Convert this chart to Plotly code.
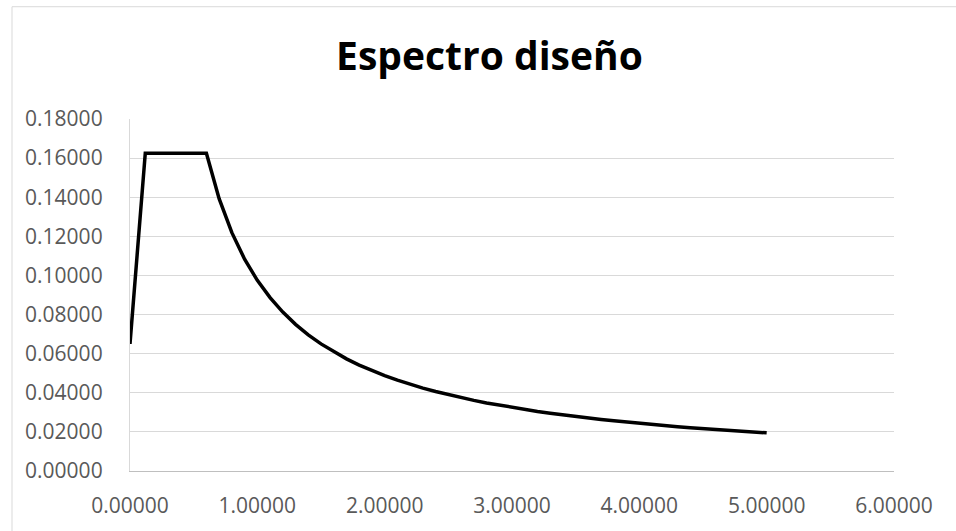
import plotly.graph_objects as go

# Period T (s) and spectral acceleration Sa
periodo = [0.00, 0.12, 0.20, 0.30, 0.40, 0.50, 0.60, 0.70, 0.80, 0.90, 1.00,
           1.10, 1.20, 1.30, 1.40, 1.50, 1.60, 1.70, 1.80, 1.90, 2.00,
           2.10, 2.20, 2.30, 2.40, 2.50, 2.60, 2.70, 2.80, 2.90, 3.00,
           3.10, 3.20, 3.30, 3.40, 3.50, 3.60, 3.70, 3.80, 3.90, 4.00,
           4.10, 4.20, 4.30, 4.40, 4.50, 4.60, 4.70, 4.80, 4.90, 5.00]
sa = [0.06500, 0.16250, 0.16250, 0.16250, 0.16250, 0.16250, 0.16250, 0.13929, 0.12188, 0.10833, 0.09750,
      0.08864, 0.08125, 0.07500, 0.06964, 0.06500, 0.06094, 0.05735, 0.05417, 0.05132, 0.04875,
      0.04643, 0.04432, 0.04239, 0.04063, 0.03900, 0.03750, 0.03611, 0.03482, 0.03362, 0.03250,
      0.03145, 0.03047, 0.02955, 0.02868, 0.02786, 0.02708, 0.02635, 0.02566, 0.02500, 0.02438,
      0.02378, 0.02321, 0.02267, 0.02216, 0.02167, 0.02120, 0.02074, 0.02031, 0.01990, 0.01950]

titulo = "Espectro diseño"

fig = go.Figure()
fig.add_trace(go.Scatter(x=periodo, y=sa, mode="lines",
                         line=dict(color="black", width=3.5), showlegend=False,
                         hoverinfo="x+y"))

tick_font = dict(family="Open Sans", size=21, color="#595959")

fig.update_layout(
    width=956, height=531,
    margin=dict(l=130, r=62, t=119, b=58),
    paper_bgcolor="white", plot_bgcolor="white",
    title=dict(text=titulo, x=0.512, xref="container", xanchor="center",
               y=0.893, yanchor="middle", yref="container",
               font=dict(family="Open Sans", size=39, color="black", weight="bold")),
    xaxis=dict(range=[0, 6], tick0=0, dtick=1, tickformat=".5f",
               showgrid=False, zeroline=False, showline=True,
               linecolor="#bfbfbf", linewidth=1.3, ticks="",
               ticklabelstandoff=16, tickfont=tick_font, fixedrange=True),
    yaxis=dict(range=[0, 0.18], tick0=0, dtick=0.02, tickformat=".5f",
               showgrid=True, gridcolor="#d9d9d9", gridwidth=1.3,
               zeroline=False, showline=True, linecolor="#d9d9d9", linewidth=1.3,
               ticks="", ticklabelstandoff=22, tickfont=tick_font, fixedrange=True),
    shapes=[dict(type="rect", xref="paper", yref="paper",
                 x0=(12 - 130) / 764, x1=(962 - 130) / 764,
                 y0=-(540 - 473.3) / 354.3, y1=(473.3 - 6) / 354.3,
                 line=dict(color="#d9d9d9", width=1), fillcolor="rgba(0,0,0,0)",
                 layer="below")],
)

fig.write_html("out.html", config={"displayModeBar": False},
               post_script="document.body.style.margin='0';")
